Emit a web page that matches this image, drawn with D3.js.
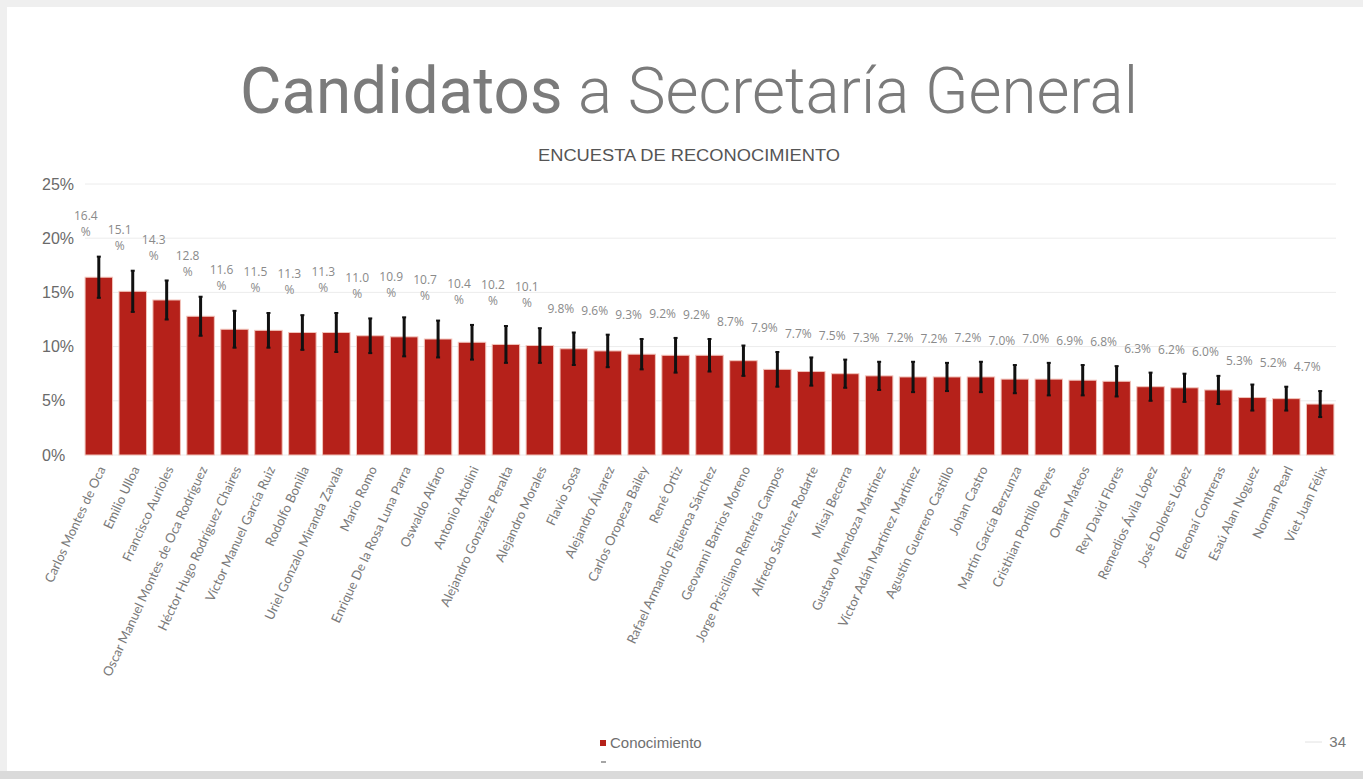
<!DOCTYPE html>
<html>
<head>
<meta charset="utf-8">
<script src="https://cdn.jsdelivr.net/npm/d3@7"></script>
<style>
  body { margin: 0; background: #efefef; }
  svg { display: block; }
</style>
</head>
<body>
<svg id="chart" width="1363" height="779"></svg>
<script>
const candidates = [
  "Carlos Montes de Oca", "Emilio Ulloa", "Francisco Aurioles",
  "Oscar Manuel Montes de Oca  Rodríguez", "Héctor Hugo Rodríguez Chaires",
  "Víctor Manuel García Ruiz", "Rodolfo Bonilla", "Uriel Gonzalo Miranda Zavala",
  "Mario Romo", "Enrique De la Rosa Luna Parra", "Oswaldo Alfaro",
  "Antonio Attolini", "Alejandro González Peralta", "Alejandro Morales",
  "Flavio Sosa", "Alejandro Álvarez", "Carlos Oropeza Bailey", "René Ortiz",
  "Rafael Armando Figueroa Sánchez", "Geovanni Barrios Moreno",
  "Jorge Prisciliano Rentería Campos", "Alfredo Sánchez Rodarte",
  "Misaj Becerra", "Gustavo Mendoza Martínez", "Víctor Adán Martínez Martínez",
  "Agustín Guerrero Castillo", "Johan Castro", "Martín García Berzunza",
  "Cristhian Portillo  Reyes", "Omar Mateos", "Rey David Flores",
  "Remedios Ávila López", "José Dolores López", "Eleonaí Contreras",
  "Esaú Alan Noguez", "Norman Pearl", "Viet Juan Félix"
];

const conocimiento = [
  16.4, 15.1, 14.3, 12.8, 11.6, 11.5, 11.3, 11.3, 11.0, 10.9, 10.7, 10.4,
  10.2, 10.1, 9.8, 9.6, 9.3, 9.2, 9.2, 8.7, 7.9, 7.7, 7.5, 7.3, 7.2, 7.2,
  7.2, 7.0, 7.0, 6.9, 6.8, 6.3, 6.2, 6.0, 5.3, 5.2, 4.7
];

// +/- margin of error
const margenError = [
  1.9, 1.9, 1.8, 1.8, 1.7, 1.6, 1.6, 1.8, 1.6, 1.8, 1.7, 1.6,
  1.7, 1.6, 1.5, 1.5, 1.4, 1.6, 1.5, 1.4, 1.6, 1.3, 1.3, 1.3, 1.4, 1.3,
  1.4, 1.3, 1.5, 1.4, 1.4, 1.3, 1.3, 1.3, 1.2, 1.1, 1.2
];

const yTicks = [0, 5, 10, 15, 20, 25];

const data = candidates.map((name, i) => ({
  name: name,
  value: conocimiento[i],
  err: margenError[i],
}));

const svg = d3.select("#chart");

// slide frame
svg.append("rect").attr("width", 1363).attr("height", 779).attr("fill", "#efefef");
svg.append("rect").attr("x", 7).attr("y", 7).attr("width", 1356).attr("height", 764).attr("fill", "#ffffff");
svg.append("rect").attr("x", 0).attr("y", 771).attr("width", 1363).attr("height", 8).attr("fill", "#dadada");

// title
const title = svg.append("text")
  .attr("x", 240)
  .attr("y", 113)
  .attr("font-family", "Roboto, 'Liberation Sans', sans-serif")
  .attr("font-size", 64)
  .attr("fill", "#7b7b7b")
  .attr("textLength", 898)
  .attr("lengthAdjust", "spacingAndGlyphs");
title.append("tspan").attr("font-weight", 400).text("Candidatos");
title.append("tspan").attr("font-weight", 300).text(" a Secretaría General");

svg.append("text")
  .attr("x", 689)
  .attr("y", 161)
  .attr("text-anchor", "middle")
  .attr("font-family", "'Liberation Sans Narrow', 'Liberation Sans', sans-serif")
  .attr("font-size", 16)
  .attr("fill", "#555")
  .attr("textLength", 302)
  .attr("lengthAdjust", "spacingAndGlyphs")
  .text("ENCUESTA DE RECONOCIMIENTO");

const x = d3.scaleBand()
  .domain(candidates)
  .range([81, 1338])
  .paddingInner(0.19)
  .paddingOuter(0.12);

const y = d3.scaleLinear().domain([0, 25]).range([455, 184]);

// grid + y labels
svg.append("g")
  .selectAll("line")
  .data(yTicks)
  .join("line")
  .attr("x1", 85)
  .attr("x2", 1336)
  .attr("y1", (t) => y(t))
  .attr("y2", (t) => y(t))
  .attr("stroke", "#ececec")
  .attr("stroke-width", 1);

svg.append("g")
  .selectAll("text")
  .data(yTicks)
  .join("text")
  .attr("x", 42)
  .attr("y", (t) => y(t))
  .attr("dy", "0.35em")
  .attr("font-family", "'Liberation Sans', Arial, sans-serif")
  .attr("font-size", 16)
  .attr("fill", "#6a6a6a")
  .text((t) => t + "%");

// bars
svg.append("g")
  .selectAll("rect")
  .data(data)
  .join("rect")
  .attr("x", (d) => x(d.name))
  .attr("y", (d) => y(d.value))
  .attr("width", x.bandwidth())
  .attr("height", (d) => y(0) - y(d.value))
  .attr("fill", "#b5211a")
  .attr("stroke", "#f2c4bb")
  .attr("stroke-width", 1);

// error bars
const cx = (d) => x(d.name) + x.bandwidth() / 2;
const errG = svg.append("g").attr("stroke", "#111");
errG.selectAll("line.whisker")
  .data(data)
  .join("line")
  .attr("class", "whisker")
  .attr("x1", cx)
  .attr("x2", cx)
  .attr("y1", (d) => y(d.value + d.err))
  .attr("y2", (d) => y(d.value - d.err))
  .attr("stroke-width", 3);
errG.selectAll("line.cap")
  .data(data.flatMap((d) => [
    { d: d, v: d.value + d.err },
    { d: d, v: d.value - d.err },
  ]))
  .join("line")
  .attr("class", "cap")
  .attr("x1", (c) => cx(c.d) - 2)
  .attr("x2", (c) => cx(c.d) + 2)
  .attr("y1", (c) => y(c.v))
  .attr("y2", (c) => y(c.v))
  .attr("stroke-width", 2);

// value labels (two lines when the number is wide)
const labels = svg.append("g")
  .attr("font-family", "'Open Sans', sans-serif")
  .attr("font-size", 12)
  .attr("fill", "#8a8a8a")
  .attr("text-anchor", "middle");

labels.selectAll("text")
  .data(data)
  .join("text")
  .attr("x", (d) => cx(d) - 13)
  .attr("y", (d) => y(d.value + d.err) - (d.value >= 10 ? 41 : 24))
  .attr("dy", "0.35em")
  .each(function (d) {
    const t = d3.select(this);
    const num = d.value.toFixed(1);
    if (d.value >= 10) {
      t.append("tspan").attr("x", cx(d) - 13).text(num);
      t.append("tspan").attr("x", cx(d) - 13).attr("dy", 16).text("%");
    } else {
      t.text(num + "%");
    }
  });

// category labels
svg.append("g")
  .selectAll("text")
  .data(data)
  .join("text")
  .attr("transform", (d) => `translate(${cx(d) + 3},467) rotate(-65)`)
  .attr("text-anchor", "end")
  .attr("dy", "0.35em")
  .attr("font-family", "Lato, 'Open Sans', sans-serif")
  .attr("font-size", 13)
  .attr("fill", "#7a7a7a")
  .text((d) => d.name);

// legend
svg.append("rect").attr("x", 600).attr("y", 740).attr("width", 6).attr("height", 6).attr("fill", "#b5211a");
svg.append("text")
  .attr("x", 610)
  .attr("y", 743)
  .attr("dy", "0.35em")
  .attr("font-family", "'Liberation Sans', Arial, sans-serif")
  .attr("font-size", 15)
  .attr("fill", "#6f6f6f")
  .text("Conocimiento");
svg.append("line")
  .attr("x1", 601).attr("x2", 606)
  .attr("y1", 762).attr("y2", 762)
  .attr("stroke", "#888").attr("stroke-width", 1.5);

// page number
svg.append("line")
  .attr("x1", 1305).attr("x2", 1322)
  .attr("y1", 742).attr("y2", 742)
  .attr("stroke", "#e2e2e2");
svg.append("text")
  .attr("x", 1346)
  .attr("y", 742)
  .attr("dy", "0.35em")
  .attr("text-anchor", "end")
  .attr("font-family", "'Liberation Sans', Arial, sans-serif")
  .attr("font-size", 15)
  .attr("fill", "#777")
  .text("34");
</script>
</body>
</html>
